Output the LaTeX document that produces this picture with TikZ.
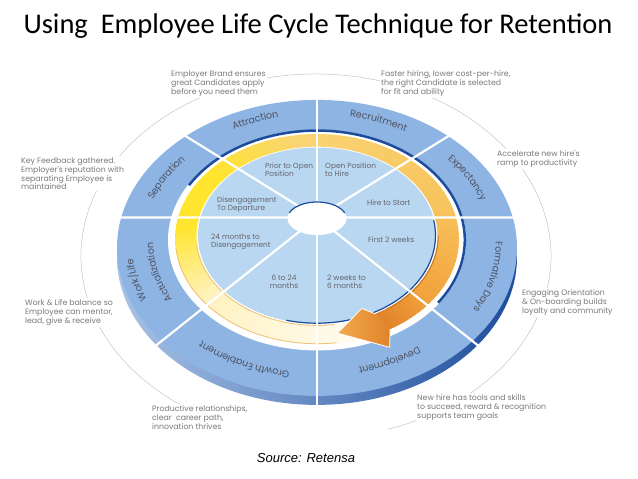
\documentclass[tikz,border=0pt]{standalone}
\usepackage{fontspec}
\setmainfont{Carlito}
\newfontfamily\gothic{Poppins}
\newfontfamily\arialfont{Liberation Sans}
\usepackage{xcolor}
\usetikzlibrary{calc, decorations.text}

\definecolor{ringblue}{HTML}{8EB4E3}
\definecolor{rimdark}{HTML}{1D4C9C}
\definecolor{rimmid}{HTML}{5C89C9}
\definecolor{rimlight}{HTML}{A9C3E6}
\definecolor{diskblue}{HTML}{B9D7F1}
\definecolor{notegray}{HTML}{7A7A7A}
\definecolor{disktext}{HTML}{66666E}
\definecolor{labelgray}{HTML}{4E5262}
\definecolor{leadgray}{HTML}{C4C4C4}
\definecolor{tailcream}{HTML}{FFFBF0}
\definecolor{tailpale}{HTML}{FFF3C4}
\definecolor{brightyellow}{HTML}{FFE52E}
\definecolor{goldyellow}{HTML}{FAD472}
\definecolor{amber}{HTML}{F8C45E}
\definecolor{deeporange}{HTML}{F2A43E}
\definecolor{arrowdark}{HTML}{E0832A}
\definecolor{arrowlight}{HTML}{F3AA4C}
\definecolor{tailedge}{HTML}{EFC07A}
\definecolor{ringbrown}{HTML}{C27526}

\newcommand{\notefont}{\gothic\fontsize{7.8}{8.8}\selectfont}
\newcommand{\disknotefont}{\gothic\fontsize{7.4}{8.2}\selectfont}
\newcommand{\ringfont}{\gothic\fontsize{9.6}{11}\selectfont}

% point on the ring of radius #1 at angle #2 (the rings are tilted ellipses)
\newcommand{\rp}[2]{({317+(#1)*cos(#2)},{217.5+(#1)*(0.152+0.74*sin(#2))})}
% ring sector: inner radius, outer radius, from angle, to angle
\newcommand{\ringsec}[4]{\rp{#2}{#3} arc[start angle=#3, end angle=#4, x radius=#2, y radius={0.74*#2}]
  -- \rp{#1}{#4} arc[start angle=#4, end angle=#3, x radius=#1, y radius={0.74*#1}] -- cycle}
% label set along the ring
\newcommand{\ringlabel}[4]{\path[decorate, decoration={text along path, text align=center, raise=-3.3pt,
  text color=labelgray, text={|\ringfont|#4}}]
  \rp{#1}{#2} arc[start angle=#2, end angle=#3, x radius=#1, y radius={0.74*#1}];}

\begin{document}
\begin{tikzpicture}[x=1pt, y=-1pt,
  notebox/.style={anchor=north west, align=left, inner sep=1.5pt, fill=white, text=notegray, font=\notefont},
  disknote/.style={anchor=north west, align=left, inner sep=0pt, text=disktext, font=\disknotefont}]
\useasboundingbox[fill=white] (0,0) rectangle (638,479);

% title and source
\node[anchor=base, font=\fontsize{28.5}{32}\selectfont] (title) at (318,34) {Using\ \ Employee Life Cycle Technique for Retention};
\node[anchor=base, font=\arialfont\itshape\fontsize{13}{15}\selectfont] (source) at (306,462) {Source: Retensa};

% leader ellipse round the wheel
\draw[leadgray, line width=0.5pt] ({316+235*cos(107.6)},{256+182*sin(107.6)})
  arc[start angle=107.6, end angle=432.2, x radius=235, y radius=182];

% outer ring with its rim
\shade[left color=rimlight, middle color=rimmid, right color=rimdark]
  (317,{217.5+0.152*200+9}) ellipse [x radius=200, y radius=148];
\fill[ringblue] (317,{217.5+0.152*200}) ellipse [x radius=200, y radius=148];
\fill[white] (317,{217.5+0.152*149}) ellipse [x radius=149, y radius={0.74*149}];
\draw[rimdark, line width=2.5pt] \rp{147.8}{-150} arc[start angle=-150, end angle=35, x radius=147.8, y radius={0.74*147.8}];

% yellow cycle ring
\foreach \ta/\tb/\ca/\cb in {70/140/tailcream/tailpale, 140/188/tailpale/brightyellow,
    188/218/brightyellow/brightyellow, 218/262/brightyellow/goldyellow, 262/340/goldyellow/amber,
    340/395/amber/deeporange, 395/421/deeporange/arrowdark}{
  \foreach \s in {0,...,11}{
    \pgfmathsetmacro\u{\ta+(\tb-\ta)*\s/12}
    \pgfmathsetmacro\v{\ta+(\tb-\ta)*(\s+1)/12+0.5}
    \pgfmathtruncatemacro\p{100*\s/11}
    \fill[fill=\cb!\p!\ca] \ringsec{120.5}{142}{\u}{\v};
  }
}
\draw[tailedge, line width=0.8pt] \rp{121}{82} arc[start angle=82, end angle=175, x radius=121, y radius={0.74*121}];
\draw[tailedge, line width=0.8pt] \rp{141.5}{82} arc[start angle=82, end angle=175, x radius=141.5, y radius={0.74*141.5}];

% inner disk
\fill[diskblue] (317,{217.5+0.152*119}) ellipse [x radius=119, y radius={0.74*119}];
\draw[rimdark, line width=1.2pt] \rp{118.5}{-10} arc[start angle=-10, end angle=105, x radius=118.5, y radius={0.74*118.5}];
\draw[ringbrown, line width=0.8pt] \rp{121.3}{0} arc[start angle=0, end angle=55, x radius=121.3, y radius={0.74*121.3}];

% spokes
\foreach \t in {-131,-90,-49,-11.85,39,90,141,191.85}
  \draw[white, line width=2.2pt] \rp{0}{\t} -- \rp{212}{\t};

% arrow head
\shade[left color=arrowlight, right color=arrowdark]
  \rp{120.5}{61} -- \rp{110}{66} -- \rp{131}{81} -- \rp{160}{63} -- \rp{142}{59} -- cycle;
\draw[white, line width=0.8pt, line join=round]
  \rp{120.5}{61} -- \rp{110}{66} -- \rp{131}{81} -- \rp{160}{63} -- \rp{142}{59};

% hub
\fill[white] (317,218.5) ellipse [x radius=29.5, y radius=16.5];
\draw[rimdark, line width=1.2pt] ({317+29.5*cos(200)},{218.5+16.5*sin(200)})
  arc[start angle=200, end angle=340, x radius=29.5, y radius=16.5];

% ring labels
\ringlabel{181}{-129}{-92}{Attraction}
\ringlabel{181}{-88}{-51}{Recruitment}
\ringlabel{178}{-47}{-14}{Expectancy}
\ringlabel{182}{-10}{37}{Formative Days}
\ringlabel{176}{41}{88}{Development}
\ringlabel{178}{92}{139}{Growth Enablement}
\ringlabel{188}{143}{190}{Work/Life}
\ringlabel{167}{143}{190}{Actualization}
\ringlabel{178}{194}{227}{Separation}

% disk notes
\node[disknote] (prior) at (265,162.5) {Prior to Open\\Position};
\node[disknote] (open) at (325,162.5) {Open Position\\to Hire};
\node[disknote] (diseng) at (217,196.5) {Disengagement\\To Departure};
\node[disknote] (hire) at (367,199.5) {Hire to Start};
\node[disknote] (month24) at (211,233.5) {24 months to\\Disengagement};
\node[disknote] (weeks2) at (368,236.5) {First 2 weeks};
\node[disknote, anchor=north, align=center] (month6) at (284,274.5) {6 to 24\\months};
\node[disknote] (weeks6) at (327,274.5) {2 weeks to\\6 months};

% callouts
\node[notebox] (brand) at (169.5,69) {Employer Brand ensures\\great Candidates apply\\before you need them};
\node[notebox] (hiring) at (379.5,69) {Faster hiring, lower cost-per-hire,\\the right Candidate is selected\\for fit and ability};
\node[notebox] (feedback) at (19.5,156) {Key Feedback gathered.\\Employer's reputation with\\separating Employee is\\maintained};
\node[notebox] (ramp) at (495.5,149) {Accelerate new hire's\\ramp to productivity};
\node[notebox] (balance) at (23.5,298) {Work \& Life balance so\\Employee can mentor,\\lead, give \& receive};
\node[notebox] (onboard) at (520.5,288) {Engaging Orientation\\\& On-boarding builds\\loyalty and community};
\node[notebox] (career) at (150.5,404) {Productive relationships,\\clear\ \ career path,\\innovation thrives};
\node[notebox] (tools) at (415.5,393) {New hire has tools and skills\\to succeed, reward \& recognition\\supports team goals};
\end{tikzpicture}
\end{document}
